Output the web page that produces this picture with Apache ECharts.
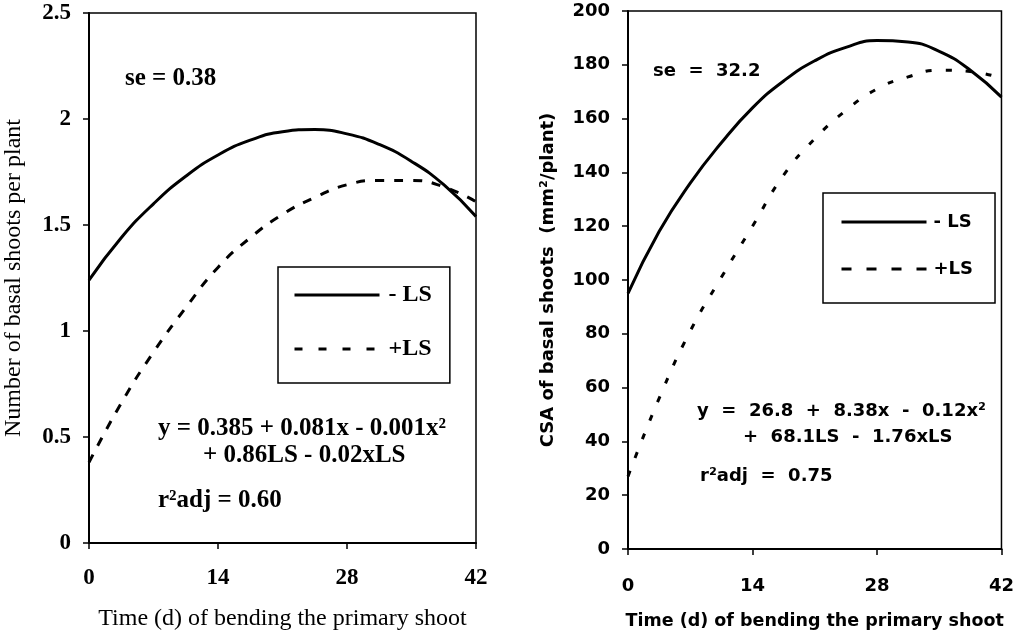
<!DOCTYPE html>
<html>
<head>
<meta charset="utf-8">
<script src="https://cdn.jsdelivr.net/npm/echarts@6/dist/echarts.min.js"></script>
<style>
  html, body { margin: 0; background: #fff; }
  #chart { width: 1017px; height: 637px; }
</style>
</head>
<body>
<div id="chart"></div>
<script>
// days after bending (x) and values
const days = [0, 3.5, 7, 10.5, 14, 17.5, 21, 24.5, 28, 31.5, 35, 38.5, 42]
const dayTicks = [0, 14, 28, 42]

const shootsMinusLS = [1.24, 1.44, 1.60, 1.73, 1.83, 1.90, 1.94, 1.95, 1.93, 1.88, 1.80, 1.69, 1.54]
const shootsPlusLS = [0.38, 0.66, 0.90, 1.11, 1.30, 1.44, 1.55, 1.63, 1.69, 1.71, 1.71, 1.68, 1.61]

const csaMinusLS = [95, 118, 136, 151, 164, 174, 181.5, 186.5, 189, 188.5, 185, 178, 168]
const csaPlusLS = [27, 56, 81, 101, 120, 139, 152.5, 163, 171, 175.5, 178, 177.5, 175]

const SERIF = 'Liberation Serif'
const SANS = 'DejaVu Sans'

const pairs = (ys) => days.map((d, i) => [d, ys[i]])

// left panel is set in a serif face, right panel in a bold sans
const weightOf = (font) => (font === SERIF ? 'normal' : 'bold')

function xAxisFor(gridIndex, font, size, nameSize, margin, gap) {
  return {
    type: 'value',
    gridIndex,
    min: dayTicks[0],
    max: dayTicks[dayTicks.length - 1],
    interval: 14,
    name: 'Time (d) of bending the primary shoot',
    nameLocation: 'middle',
    nameGap: gap,
    nameTextStyle: { fontFamily: font, fontSize: nameSize, color: '#000', fontWeight: weightOf(font) },
    axisLine: { lineStyle: { color: '#000', width: 2 } },
    axisTick: { show: true, length: 6, lineStyle: { color: '#000', width: 1.5 } },
    axisLabel: { margin, fontFamily: font, fontSize: size, color: '#000', fontWeight: 'bold' },
    splitLine: { show: false },
  }
}

function yAxisFor(gridIndex, name, max, interval, font, size, nameSize, gap) {
  return {
    type: 'value',
    gridIndex,
    min: 0,
    max,
    interval,
    name,
    nameLocation: 'middle',
    nameGap: gap,
    nameTextStyle: { fontFamily: font, fontSize: nameSize, color: '#000', fontWeight: weightOf(font) },
    axisLine: { show: true, lineStyle: { color: '#000', width: 2 } },
    axisTick: { show: true, length: 6, lineStyle: { color: '#000', width: 1.5 } },
    axisLabel: { margin: 18, fontFamily: font, fontSize: size, color: '#000', fontWeight: 'bold' },
    splitLine: { show: false },
  }
}

function note(text, left, top, font, size) {
  return {
    type: 'text',
    left,
    top,
    style: { text, fill: '#000', fontFamily: font, fontSize: size, fontWeight: 'bold' },
  }
}

const chart = echarts.init(document.getElementById('chart'))

chart.setOption({
  animation: false,
  backgroundColor: '#fff',
  grid: [
    { left: 89, right: 541, top: 13, bottom: 94, show: true, borderColor: '#000', borderWidth: 1.5 },
    { left: 628, right: 9, top: 11, bottom: 88, show: true, borderColor: '#000', borderWidth: 1.5 },
  ],
  xAxis: [
    xAxisFor(0, SERIF, 23, 24, 24, 64),
    xAxisFor(1, SANS, 18, 17.5, 28, 63),
  ],
  yAxis: [
    yAxisFor(0, 'Number of basal shoots per plant', 2.5, 0.5, SERIF, 23, 24, 63),
    yAxisFor(1, 'CSA of basal shoots  (mm²/plant)', 200, 20, SANS, 18, 18, 71),
  ],
  legend: [
    {
      data: ['- LS', { name: '+LS', lineStyle: { type: [8, 16] } }],
      orient: 'vertical',
      left: 278,
      top: 267,
      itemWidth: 85,
      itemHeight: 14,
      itemGap: 30,
      padding: [16, 18, 22, 15],
      borderColor: '#000',
      borderWidth: 1.5,
      selectedMode: false,
      itemStyle: { opacity: 0 },
      lineStyle: { width: 3 },
      textStyle: { fontFamily: SERIF, fontSize: 24, fontWeight: 'bold', color: '#000', padding: [0, 0, 0, 4] },
    },
    {
      data: ['- LS', { name: '+LS', lineStyle: { type: [10, 15] } }],
      orient: 'vertical',
      left: 823,
      top: 193,
      itemWidth: 85,
      itemHeight: 14,
      itemGap: 29,
      padding: [20, 22, 25, 17],
      borderColor: '#000',
      borderWidth: 1.5,
      selectedMode: false,
      itemStyle: { opacity: 0 },
      lineStyle: { width: 3 },
      textStyle: { fontFamily: SANS, fontSize: 18, fontWeight: 'bold', color: '#000', padding: [0, 0, 0, 2] },
    },
  ],
  graphic: [
    note('se = 0.38', 125, 66, SERIF, 25),
    note('y = 0.385 + 0.081x - 0.001x²', 158, 416, SERIF, 25),
    note('+ 0.86LS - 0.02xLS', 203, 443, SERIF, 25),
    note('r²adj = 0.60', 158, 488, SERIF, 25),
    note('se  =  32.2', 653, 62, SANS, 18),
    note('y  =  26.8  +  8.38x  -  0.12x²', 697, 402, SANS, 18),
    note('+  68.1LS  -  1.76xLS', 743, 428, SANS, 18),
    note('r²adj  =  0.75', 700, 467, SANS, 18),
  ],
  series: [
    {
      name: '- LS', type: 'line', xAxisIndex: 0, yAxisIndex: 0, smooth: true, symbol: 'none',
      data: pairs(shootsMinusLS), itemStyle: { color: '#000' }, lineStyle: { color: '#000', width: 3 },
    },
    {
      name: '+LS', type: 'line', xAxisIndex: 0, yAxisIndex: 0, smooth: true, symbol: 'none',
      data: pairs(shootsPlusLS), itemStyle: { color: '#000' }, lineStyle: { color: '#000', width: 3, type: [9, 10] },
    },
    {
      name: '- LS', type: 'line', xAxisIndex: 1, yAxisIndex: 1, smooth: true, symbol: 'none',
      data: pairs(csaMinusLS), itemStyle: { color: '#000' }, lineStyle: { color: '#000', width: 3 },
    },
    {
      name: '+LS', type: 'line', xAxisIndex: 1, yAxisIndex: 1, smooth: true, symbol: 'none',
      data: pairs(csaPlusLS), itemStyle: { color: '#000' }, lineStyle: { color: '#000', width: 3, type: [6, 14] },
    },
  ],
})
</script>
</body>
</html>
